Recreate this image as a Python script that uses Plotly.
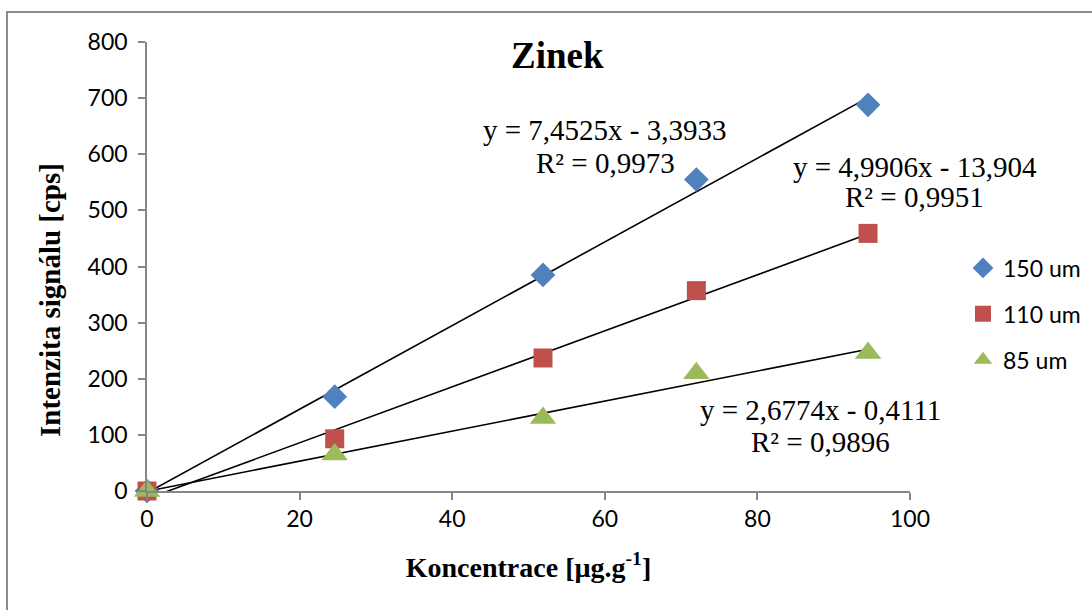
import plotly.graph_objects as go

# Concentration of zinc standards [µg/g]
concentration = [0, 24.6, 51.9, 72.0, 94.5]

# Signal intensity [cps] for each spot size
series_names = ["150 um", "110 um", "85 um"]
signal_150 = [0, 168, 385, 555, 688]
signal_110 = [0, 93, 237, 357, 459]
signal_85 = [0, 65, 130, 210, 246]

# Linear trendline coefficients (slope, intercept) and R²
slopes = [7.4525, 4.9906, 2.6774]
intercepts = [-3.3933, -13.904, -0.4111]
r_squared = [0.9973, 0.9951, 0.9896]

colors = ["#4F81BD", "#C0504D", "#9BBB59"]
symbols = ["diamond", "square", "triangle-up"]
sizes = [19, 19, 23]

SERIF = "Liberation Serif, Times New Roman, serif"
SANS = "Lato, Carlito, Calibri, sans-serif"
AXIS_GREY = "#868686"

W, H = 1092, 610
# Plot area in pixels (left, right, top, bottom)
PL, PR, PT, PB = 147, 910, 42, 491


def px_x(p):
    return (p - PL) / (PR - PL)


def px_y(p):
    return (PB - p) / (PB - PT)


def fmt(v, digits):
    return f"{abs(v):.{digits}f}".replace(".", ",")


fig = go.Figure()

all_signals = [signal_150, signal_110, signal_85]

# Trendlines drawn first so that markers sit on top
for k, q in zip(slopes, intercepts):
    xs = [min(concentration), max(concentration)]
    ys = [k * x + q for x in xs]
    fig.add_trace(go.Scatter(
        x=xs, y=ys, mode="lines",
        line=dict(color="black", width=1.6),
        showlegend=False, hoverinfo="skip",
    ))

for i, (name, sig) in enumerate(zip(series_names, all_signals)):
    fig.add_trace(go.Scatter(
        x=concentration, y=sig, mode="markers", name=name,
        marker=dict(symbol=symbols[i], color=colors[i], size=sizes[i],
                    line=dict(width=0)),
        cliponaxis=False, legendgroup=name,
    ))

# Trendline equation labels: (centre x, equation line y, R² line y) in pixels
label_pos = [(605, 130, 163), (915, 167, 197), (820, 410, 442)]
for (cx, y1, y2), k, q, r2 in zip(label_pos, slopes, intercepts, r_squared):
    sign = "-" if q < 0 else "+"
    qdigits = 3 if abs(q) >= 10 else 4
    for text, yy in ((f"y = {fmt(k, 4)}x {sign} {fmt(q, qdigits)}", y1),
                     (f"R² = {fmt(r2, 4)}", y2)):
        fig.add_annotation(
            x=px_x(cx), y=px_y(yy), xref="paper", yref="paper",
            xanchor="center", yanchor="middle",
            text=text, showarrow=False,
            font=dict(family=SERIF, size=29, color="black"),
        )

# Chart title
fig.add_annotation(
    x=px_x(557), y=px_y(55), xref="paper", yref="paper",
    xanchor="center", yanchor="middle",
    text="<b>Zinek</b>", showarrow=False,
    font=dict(family=SERIF, size=37, color="black"),
)

# Vertical axis title
fig.add_annotation(
    x=px_x(50), y=px_y(300), xref="paper", yref="paper",
    xanchor="center", yanchor="middle", textangle=-90,
    text="<b>Intenzita signálu [cps]</b>", showarrow=False,
    font=dict(family=SERIF, size=29, color="black"),
)

# Outer chart border
fig.add_shape(
    type="rect", xref="paper", yref="paper",
    x0=px_x(7), x1=1.5, y0=-0.5, y1=px_y(12),
    line=dict(color="#8c8c8c", width=2), layer="below",
)

fig.update_layout(
    width=W, height=H,
    margin=dict(l=PL, r=W - PR, t=PT, b=H - PB, autoexpand=False),
    paper_bgcolor="white", plot_bgcolor="white",
    showlegend=True,
    legend=dict(
        xref="container", yref="container",
        x=963 / W, y=1 - 314 / H, xanchor="left", yanchor="middle",
        font=dict(family=SANS, size=23, color="black"),
        tracegroupgap=13, itemwidth=30, bgcolor="rgba(0,0,0,0)",
    ),
    xaxis=dict(
        range=[0, 100], tickvals=[0, 20, 40, 60, 80, 100],
        showgrid=False, zeroline=False,
        showline=True, linecolor=AXIS_GREY, linewidth=1.5,
        ticks="outside", ticklen=7, tickcolor=AXIS_GREY, tickwidth=1.5,
        tickfont=dict(family=SANS, size=23, color="black"),
        title=dict(text="<b>Koncentrace [µg.g<sup>-1</sup>]</b>",
                   font=dict(family=SERIF, size=28, color="black"),
                   standoff=26),
    ),
    yaxis=dict(
        range=[0, 800], tickvals=list(range(0, 801, 100)),
        showgrid=False, zeroline=False,
        showline=True, linecolor=AXIS_GREY, linewidth=1.5,
        ticks="outside", ticklen=7, tickcolor=AXIS_GREY, tickwidth=1.5,
        tickfont=dict(family=SANS, size=23, color="black"),
        ticklabelstandoff=6,
    ),
)

fig.write_html("out.html")
